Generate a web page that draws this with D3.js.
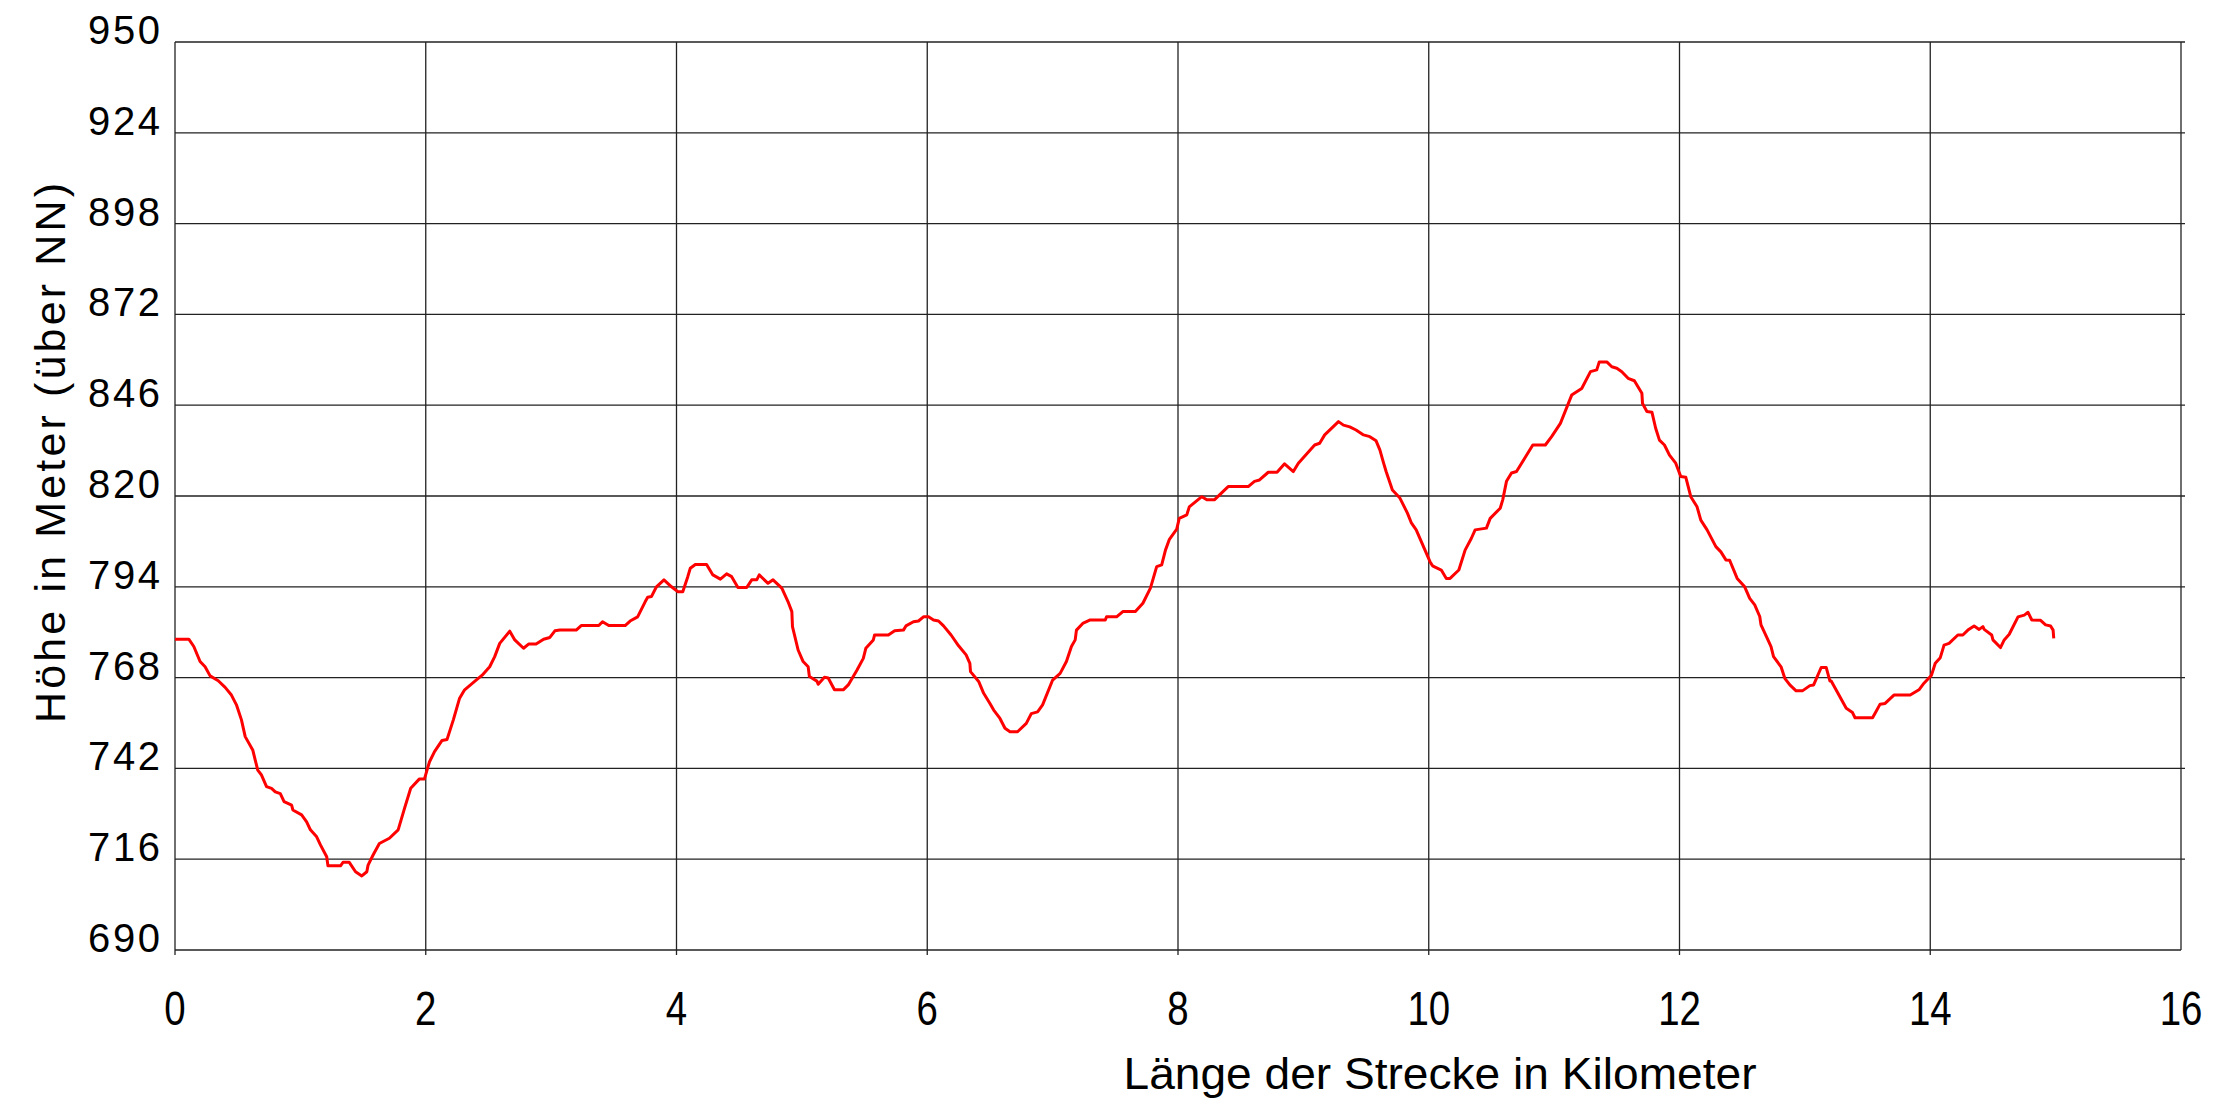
<!DOCTYPE html>
<html>
<head>
<meta charset="utf-8">
<script src="https://cdn.jsdelivr.net/npm/d3@7"></script>
<style>
  html, body { margin: 0; padding: 0; background: #fff; }
  svg { display: block; font-family: "Liberation Sans", Arial, sans-serif; }
</style>
</head>
<body>
<div id="chart"></div>
<script>
// Höhenprofil der Strecke (km / m über NN)
const distKm = [
  0, 0.11, 0.15, 0.20, 0.24, 0.28, 0.345, 0.40, 0.45, 0.49, 0.53, 0.56, 0.62, 0.64, 0.66, 0.69,
  0.73, 0.77, 0.80, 0.84, 0.87, 0.93, 0.94, 1.01, 1.05, 1.08, 1.13, 1.16, 1.21, 1.22, 1.32, 1.34,
  1.39, 1.44, 1.49, 1.53, 1.54, 1.58, 1.63, 1.71, 1.78, 1.83, 1.88, 1.95, 1.99, 2.01, 2.03, 2.07,
  2.13, 2.17, 2.22, 2.27, 2.31, 2.39, 2.45, 2.51, 2.55, 2.59, 2.67, 2.71, 2.78, 2.82, 2.88, 2.94,
  2.99, 3.03, 3.07, 3.20, 3.24, 3.38, 3.41, 3.46, 3.59, 3.63, 3.69, 3.75, 3.77, 3.80, 3.84, 3.90,
  3.96, 4.01, 4.05, 4.09, 4.11, 4.15, 4.24, 4.29, 4.35, 4.40, 4.44, 4.49, 4.56, 4.60, 4.64, 4.66,
  4.73, 4.77, 4.84, 4.89, 4.92, 4.925, 4.97, 5.01, 5.05, 5.06, 5.12, 5.13, 5.18, 5.21, 5.26, 5.33,
  5.37, 5.44, 5.49, 5.51, 5.57, 5.58, 5.69, 5.74, 5.81, 5.83, 5.89, 5.93, 5.97, 6.01, 6.05, 6.09,
  6.13, 6.19, 6.25, 6.31, 6.34, 6.345, 6.41, 6.45, 6.50, 6.53, 6.58, 6.62, 6.66, 6.72, 6.79, 6.83,
  6.88, 6.92, 7.00, 7.06, 7.11, 7.15, 7.18, 7.19, 7.24, 7.30, 7.42, 7.43, 7.51, 7.56, 7.66, 7.72,
  7.78, 7.83, 7.87, 7.90, 7.93, 7.99, 8.01, 8.07, 8.09, 8.19, 8.23, 8.29, 8.40, 8.56, 8.61, 8.65,
  8.72, 8.79, 8.85, 8.92, 8.96, 9.09, 9.13, 9.17, 9.28, 9.32, 9.37, 9.42, 9.48, 9.53, 9.58, 9.61,
  9.64, 9.66, 9.71, 9.77, 9.83, 9.86, 9.90, 10.01, 10.03, 10.10, 10.14, 10.17, 10.24, 10.29, 10.34, 10.37,
  10.46, 10.49, 10.57, 10.59, 10.62, 10.66, 10.70, 10.77, 10.83, 10.93, 10.98, 11.05, 11.14, 11.22, 11.29, 11.34,
  11.36, 11.42, 11.46, 11.50, 11.54, 11.59, 11.64, 11.70, 11.705, 11.74, 11.78, 11.81, 11.84, 11.88, 11.92, 11.97,
  12.01, 12.05, 12.09, 12.14, 12.17, 12.22, 12.29, 12.33, 12.37, 12.40, 12.46, 12.52, 12.56, 12.60, 12.64, 12.65,
  12.70, 12.73, 12.75, 12.81, 12.84, 12.88, 12.93, 12.98, 13.04, 13.07, 13.13, 13.17, 13.20, 13.21, 13.33, 13.38,
  13.40, 13.54, 13.56, 13.60, 13.64, 13.71, 13.84, 13.91, 13.95, 14.01, 14.04, 14.08, 14.11, 14.15, 14.22, 14.26,
  14.30, 14.35, 14.39, 14.42, 14.43, 14.49, 14.50, 14.56, 14.59, 14.63, 14.70, 14.75, 14.78, 14.81, 14.88, 14.92,
  14.96, 14.98, 14.985
];
const hoehe = [
  779, 779, 776.9, 772.6, 771.1, 768.5, 767.1, 765.2, 763, 760.2, 755.9, 751.1, 747.3, 744.4, 741.5, 740.1,
  736.8, 736.3, 735.3, 734.8, 732.5, 731.5, 730.1, 728.7, 726.7, 724.4, 722.4, 720.1, 716.7, 714.1, 714.1, 715.1,
  715.1, 712.4, 711.2, 712.4, 714.3, 717.2, 720.5, 722, 724.4, 730.5, 736.3, 739, 739, 741.5, 743.9, 746.8,
  750, 750.3, 755.9, 762.1, 764.5, 766.9, 768.7, 771.1, 774, 777.8, 781.3, 778.8, 776.4, 777.6, 777.6, 779,
  779.5, 781.4, 781.6, 781.6, 782.9, 782.9, 784, 782.9, 782.9, 784.2, 785.4, 789.7, 791, 791.2, 794, 796,
  794, 792.6, 792.6, 796.9, 799.3, 800.4, 800.4, 797.4, 796.2, 797.7, 796.9, 793.8, 793.8, 796, 796, 797.4,
  795, 796, 793.6, 789.7, 786.9, 782.6, 775.9, 772.6, 771.1, 768.3, 767, 766.1, 768.1, 767.9, 764.5, 764.5,
  765.9, 770.2, 773.5, 776.4, 778.8, 780.2, 780.2, 781.4, 781.6, 782.8, 784, 784.2, 785.4, 785.4, 784.5, 784.2,
  782.8, 780.2, 777.1, 774.5, 772.1, 769.7, 766.9, 763.5, 760.6, 758.7, 756.3, 753.5, 752.5, 752.5, 754.9, 757.7,
  758.2, 760.2, 767.3, 769.2, 772.6, 776.9, 778.8, 781.6, 783.5, 784.5, 784.5, 785.4, 785.4, 786.9, 786.9, 789.3,
  793.6, 799.8, 800.3, 804.5, 807.5, 810.5, 813.6, 814.6, 816.9, 819.8, 818.9, 818.9, 822.7, 822.7, 824.2, 824.6,
  826.8, 826.8, 829.2, 827, 829.4, 834.6, 835.1, 837.5, 841.3, 840.3, 839.8, 838.9, 837.5, 837, 835.8, 833.2,
  829.4, 827, 821.7, 819.4, 815.1, 812.4, 810.3, 801.2, 800, 798.8, 796.4, 796.4, 798.8, 804.5, 807.9, 810.3,
  810.8, 813.6, 816.5, 818.9, 824.2, 826.6, 827, 831.1, 834.6, 834.6, 837, 840.8, 848.9, 850.8, 855.6, 856.1,
  858.4, 858.4, 857, 856.6, 855.6, 853.7, 853, 849.4, 846.5, 844.2, 844, 839.4, 836, 834.6, 831.7, 829.4,
  825.6, 825.4, 819.8, 816.9, 813.1, 810.3, 805.5, 804, 801.7, 801.6, 796.4, 794, 790.7, 788.8, 785.5, 783.1,
  779.2, 776.9, 774, 771.1, 767.8, 765.9, 764.2, 764.2, 765.7, 765.9, 770.9, 770.9, 767, 767, 759.2, 758,
  756.5, 756.5, 757.8, 760.4, 760.6, 763, 763, 764.5, 766.4, 768.7, 772.1, 773.7, 777.3, 777.8, 780.2, 780.2,
  781.6, 782.8, 781.8, 782.6, 781.8, 780.2, 778.8, 776.6, 778.8, 780.4, 785.4, 785.9, 786.7, 784.5, 784.4, 783.1,
  782.8, 781.6, 779.2
];
const yTicks = [690, 716, 742, 768, 794, 820, 846, 872, 898, 924, 950];
const xTicks = [0, 2, 4, 6, 8, 10, 12, 14, 16];
const xTitle = "Länge der Strecke in Kilometer";
const yTitle = "Höhe in Meter (über NN)";

const width = 2216, height = 1104;
const plot = { left: 175, right: 2181, top: 42, bottom: 950 };

const svg = d3.select("#chart").append("svg")
  .attr("width", width)
  .attr("height", height)
  .attr("viewBox", [0, 0, width, height]);

const x = d3.scaleLinear().domain([0, 16]).range([plot.left, plot.right]);
const y = d3.scaleLinear().domain([690, 950]).range([plot.bottom, plot.top]);

// horizontal grid lines
svg.append("g")
  .selectAll("line")
  .data(yTicks)
  .join("line")
  .attr("x1", plot.left)
  .attr("x2", d => d === 690 ? plot.right : plot.right + 4)
  .attr("y1", d => y(d))
  .attr("y2", d => y(d))
  .attr("stroke", "#222")
  .attr("stroke-width", 1.3);

// vertical grid lines (with small ticks below the axis)
svg.append("g")
  .selectAll("line")
  .data(xTicks)
  .join("line")
  .attr("x1", d => x(d))
  .attr("x2", d => x(d))
  .attr("y1", plot.top)
  .attr("y2", d => d === 16 ? plot.bottom : plot.bottom + 5)
  .attr("stroke", "#222")
  .attr("stroke-width", 1.3);

// y tick labels
svg.append("g")
  .selectAll("text")
  .data(yTicks)
  .join("text")
  .attr("x", 160)
  .attr("y", d => y(d) + 2)
  .attr("text-anchor", "end")
  .attr("font-size", 40)
  .attr("textLength", 72)
  .attr("lengthAdjust", "spacing")
  .attr("fill", "#000")
  .text(d => d);

// x tick labels (narrow glyphs)
svg.append("g")
  .selectAll("g")
  .data(xTicks)
  .join("g")
  .attr("transform", d => `translate(${x(d)},1025) scale(0.8,1)`)
  .append("text")
  .attr("text-anchor", "middle")
  .attr("font-size", 48)
  .attr("fill", "#000")
  .text(d => d);

// axis titles
svg.append("text")
  .attr("x", 1440)
  .attr("y", 1089)
  .attr("text-anchor", "middle")
  .attr("font-size", 44)
  .attr("textLength", 633)
  .attr("lengthAdjust", "spacingAndGlyphs")
  .text(xTitle);

svg.append("text")
  .attr("transform", "translate(65,453) rotate(-90)")
  .attr("text-anchor", "middle")
  .attr("font-size", 43)
  .attr("textLength", 540)
  .attr("lengthAdjust", "spacing")
  .text(yTitle);

// elevation profile
const line = d3.line()
  .x(i => x(distKm[i]))
  .y(i => y(hoehe[i]));

svg.append("path")
  .datum(d3.range(distKm.length))
  .attr("fill", "none")
  .attr("stroke", "#ff0000")
  .attr("stroke-width", 3)
  .attr("stroke-linejoin", "round")
  .attr("d", line);
</script>
</body>
</html>
